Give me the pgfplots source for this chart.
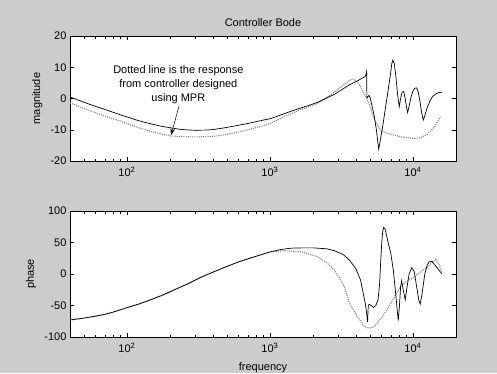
\documentclass[border=0pt]{standalone}
\usepackage{pgfplots}
\pgfplotsset{compat=1.18}
\usepackage{fontspec}
\setmainfont{Liberation Sans}
\usetikzlibrary{arrows.meta}
\definecolor{figbg}{RGB}{204,204,204}
\definecolor{dotgray}{RGB}{130,130,130}
\pgfplotsset{
  solidc/.style={black, line width=0.7pt},
  dotc/.style={dotgray, line width=1.1pt, dash pattern=on 1.1pt off 1.1pt},
}
\begin{document}
\begin{tikzpicture}
\fill[figbg] (0,0) rectangle (497pt,373pt);
\useasboundingbox (0,0) rectangle (497pt,373pt);
% ---------- magnitude ----------
\begin{semilogxaxis}[
  scale only axis, width=386pt, xmin=40, xmax=20000,
  xtick={100,1000,10000},
  xticklabels={10\textsuperscript{2},10\textsuperscript{3},10\textsuperscript{4}},
  xticklabel style={yshift=-2.5pt},
  minor xtick={50,60,70,80,90,200,300,400,500,600,700,800,900,2000,3000,4000,5000,6000,7000,8000,9000},
  tick align=inside, tick pos=both,
  major tick length=4pt, minor tick length=2.5pt,
  axis background/.style={fill=white},
  axis line style={line width=0.6pt, black},
  every tick/.style={black, line width=0.5pt},
  tick label style={font=\fontsize{11}{13}\selectfont},
  label style={font=\fontsize{11}{13}\selectfont},
  anchor=south west,
  at={(70pt,212pt)}, height=125pt,
  ymin=-20, ymax=20, ytick={-20,-10,0,10,20}, yticklabels={-20,-10,0,10,20},
  ylabel={magnitude},
  ylabel style={at={(axis description cs:-0.085,0.5)}, anchor=center},
  title={Controller Bode},
  title style={at={(axis description cs:0.5,1)}, anchor=center, yshift=7.6pt, font=\fontsize{11}{12}\selectfont}]
\addplot[dotc] coordinates {
(40,-1.4)(45,-2.3)(50,-3.2)(56,-4.0)(63,-4.9)(71,-5.7)(80,-6.5)(91,-7.3)(100,-8.0)
(115,-9.0)(130,-9.8)(150,-10.6)(175,-11.4)(203,-12.0)(250,-12.2)(300,-12.3)(367,-12.2)
(420,-12.0)(479,-11.6)(550,-11.1)(630,-10.5)(700,-10.0)(800,-9.3)(900,-8.7)(1000,-8.0)
(1200,-6.3)(1400,-4.9)(1650,-3.5)(1900,-2.5)(2155,-1.6)(2450,0.0)(2820,2.0)(3200,4.0)
(3600,5.8)(3800,6.2)(4000,5.7)(4300,3.9)(4600,1.2)(4940,-1.9)(5200,-4.8)(5500,-7.7)
(6000,-10.4)(6500,-11.0)(7000,-11.4)(8170,-12.2)(9000,-12.5)(10210,-12.8)
(11380,-12.5)(12500,-11.6)(13360,-10.4)(14500,-8.3)(15560,-5.8)
};
\addplot[solidc] coordinates {
(40,0.5)(45,-0.4)(50,-1.2)(56,-2.0)(63,-2.8)(71,-3.6)(80,-4.4)(91,-5.3)(100,-5.9)
(115,-6.8)(130,-7.5)(150,-8.2)(175,-8.9)(203,-9.4)(230,-9.8)(265,-10.05)(300,-10.15)
(367,-10.1)(420,-9.8)(479,-9.4)(550,-8.9)(630,-8.4)(700,-8.0)(800,-7.4)(900,-6.9)
(1000,-6.5)(1200,-5.2)(1400,-4.1)(1650,-3.0)(1900,-2.1)(2155,-1.2)(2450,0.0)(2820,1.3)
(3200,2.9)(3600,4.4)(4000,5.4)(4300,6.2)(4640,7.1)(4700,7.8)(4745,8.7)(4765,0.3)
(4815,0.2)(4880,0.8)(4940,0.95)(5020,0.3)(5150,-2.0)(5360,-5.6)(5550,-10.0)
(5680,-14.0)(5760,-16.2)(5900,-13.5)(6150,-8.8)(6400,-3.5)(6700,2.5)(7000,8.5)
(7100,11.0)(7215,12.2)(7400,11.2)(7600,7.0)(7800,1.5)(8020,-2.6)(8200,0.0)(8400,2.0)(8610,2.3)
(8800,0.3)(9000,-2.5)(9180,-4.5)(9400,-2.5)(9700,0.5)(10000,2.4)(10300,3.3)(10620,3.4)
(10900,2.0)(11200,-1.0)(11500,-4.5)(11800,-6.9)(12100,-5.5)(12600,-2.8)(13200,-0.6)
(13740,0.7)(14500,1.5)(15200,1.9)(15950,2.0)
};
\node[align=center, font=\fontsize{11}{14}\selectfont] at (axis cs:229,4.35)
  {Dotted line is the response\\from controller designed\\using MPR};
\draw[-{Stealth[length=7pt,width=4.5pt]}, line width=0.5pt, black]
  (axis cs:232,-2.3) -- (axis cs:203,-11.8);
\end{semilogxaxis}
% ---------- phase ----------
\begin{semilogxaxis}[
  scale only axis, width=386pt, xmin=40, xmax=20000,
  xtick={100,1000,10000},
  xticklabels={10\textsuperscript{2},10\textsuperscript{3},10\textsuperscript{4}},
  xticklabel style={yshift=-2.5pt},
  minor xtick={50,60,70,80,90,200,300,400,500,600,700,800,900,2000,3000,4000,5000,6000,7000,8000,9000},
  tick align=inside, tick pos=both,
  major tick length=4pt, minor tick length=2.5pt,
  axis background/.style={fill=white},
  axis line style={line width=0.6pt, black},
  every tick/.style={black, line width=0.5pt},
  tick label style={font=\fontsize{11}{13}\selectfont},
  label style={font=\fontsize{11}{13}\selectfont},
  anchor=south west,
  at={(70pt,36pt)}, height=126pt,
  ymin=-100, ymax=100, ytick={-100,-50,0,50,100}, yticklabels={-100,-50,0,50,100},
  ylabel={phase},
  ylabel style={at={(axis description cs:-0.101,0.5)}, anchor=center},
  xlabel={frequency},
  xlabel style={at={(axis description cs:0.5,0)}, anchor=center, yshift=-31pt}]
\addplot[dotc] coordinates {
(40,-73)(50,-70)(60,-67)(70,-64)(80,-60.5)(91,-56.5)(100,-53.5)(120,-48)(150,-40)
(180,-33)(220,-24)(270,-15)(330,-5)(400,3)(500,12)(600,19)(700,24)(850,30)(1000,35)
(1250,37)(1650,35.4)(2155,27.5)(2500,18)(2820,6.4)(3100,-8)(3310,-20)(3600,-46.5)
(3850,-58)(4100,-67.7)(4580,-83.6)(4940,-86)(5360,-83.6)(6000,-70)(6700,-54)(7440,-36)
(8170,-20)(9000,-12)(10200,-5)(11400,4)(12670,11.6)(13600,18)(14500,23)(15200,15)(15950,3.6)
};
\addplot[solidc] coordinates {
(40,-73)(50,-70)(60,-67)(70,-64)(80,-60.5)(91,-56.5)(100,-53.5)(120,-48)(150,-40)
(180,-33)(220,-24)(270,-15)(330,-5)(400,3)(500,12)(600,19)(700,24)(850,30)(1000,35)
(1200,39)(1400,41)(1700,41.5)(2000,41.5)(2500,40)(2820,37)(3250,31)(3600,22)(4000,8)
(4300,-9.5)(4640,-46.5)(4760,-65)(4815,-76)(4870,-50)(4950,-48)(5100,-50)(5300,-53)
(5500,-50)(5700,-41)(5850,-15)(5950,20)(6050,50)(6150,68)(6240,74)(6400,71)(6700,50)
(7000,33)(7300,5)(7600,-35)(7890,-74)(8050,-50)(8200,-20)(8340,-10.6)(8550,-25)
(8830,-41)(9100,-20)(9400,0)(9800,10)(10200,4)(10700,-25)(11000,-42)(11250,-47.6)
(11600,-30)(12100,0)(12600,15)(13000,19.5)(13600,20)(14500,12)(15950,0)
};
\end{semilogxaxis}
\end{tikzpicture}
\end{document}
